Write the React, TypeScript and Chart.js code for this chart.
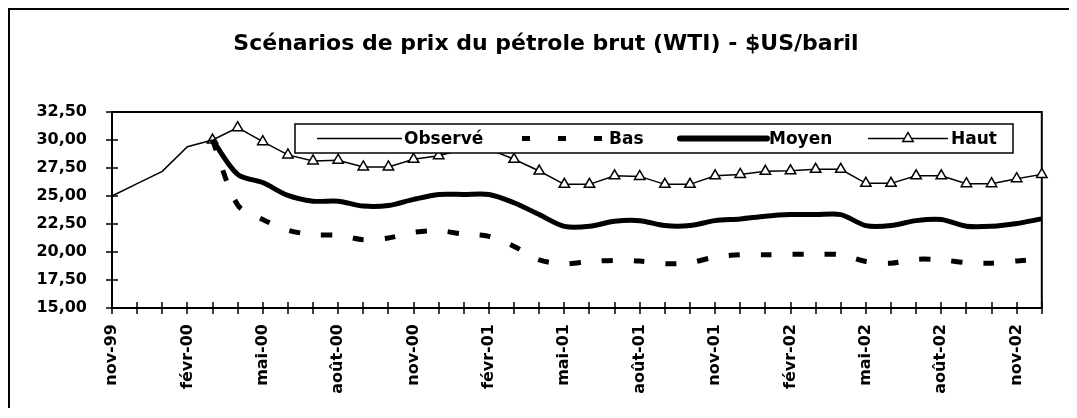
import React, { useEffect, useRef } from "react";
import { Chart, registerables } from "chart.js";

Chart.register(...registerables);

const TITLE = "Scénarios de prix du pétrole brut (WTI) - $US/baril";

const categories = [
  "nov-99", "déc-99", "janv-00", "févr-00", "mars-00", "avr-00", "mai-00", "juin-00", "juil-00", "août-00", "sept-00", "oct-00",
  "nov-00", "déc-00", "janv-01", "févr-01", "mars-01", "avr-01", "mai-01", "juin-01", "juil-01", "août-01", "sept-01", "oct-01",
  "nov-01", "déc-01", "janv-02", "févr-02", "mars-02", "avr-02", "mai-02", "juin-02", "juil-02", "août-02", "sept-02", "oct-02",
  "nov-02", "déc-02",
];

const observe = [25.0, 26.1, 27.2, 29.4, 30.0,
  null, null, null, null, null, null, null, null, null, null, null, null, null, null, null, null,
  null, null, null, null, null, null, null, null, null, null, null, null, null, null, null, null, null];

const bas = [null, null, null, null, 30.0,
  24.2, 22.9, 21.95, 21.55, 21.5, 21.1, 21.25, 21.75, 21.9, 21.6, 21.4,
  20.5, 19.3, 18.95, 19.15, 19.25, 19.2, 18.95, 19.05, 19.55, 19.75,
  19.75, 19.8, 19.8, 19.75, 19.15, 19.0, 19.35, 19.3, 19.05, 19.0, 19.2, 19.35];

const moyen = [null, null, null, null, 30.0,
  26.93, 26.2, 25.05, 24.54, 24.54, 24.1, 24.15, 24.7, 25.14, 25.14, 25.14,
  24.4, 23.34, 22.29, 22.29, 22.74, 22.8, 22.36, 22.36, 22.8, 22.95,
  23.2, 23.34, 23.34, 23.34, 22.36, 22.36, 22.8, 22.9, 22.29, 22.29, 22.54, 22.96];

const haut = [null, null, null, null, 30.0,
  31.1, 29.85, 28.67, 28.13, 28.2, 27.6, 27.6, 28.28, 28.6, 29.2, 29.2,
  28.28, 27.23, 26.04, 26.04, 26.8, 26.75, 26.04, 26.04, 26.8, 26.93,
  27.2, 27.25, 27.38, 27.38, 26.13, 26.13, 26.8, 26.8, 26.1, 26.1, 26.55, 26.93];

const yTicks = { min: 15, max: 32.5, step: 2.5 };

const FONT = "'DejaVu Sans', 'Liberation Sans', sans-serif";

const framePlugin = {
  id: "frame",
  beforeDraw(chart: any) {
    const { ctx, width, height } = chart;
    ctx.save();
    ctx.fillStyle = "#fff";
    ctx.fillRect(0, 0, width, height);
    ctx.strokeStyle = "#000";
    ctx.lineWidth = 2;
    ctx.beginPath();
    ctx.moveTo(1, height);
    ctx.lineTo(1, 1);
    ctx.lineTo(width, 1);
    ctx.stroke();
    ctx.fillStyle = "#000";
    ctx.font = `bold 22px ${FONT}`;
    ctx.textAlign = "center";
    ctx.textBaseline = "middle";
    ctx.fillText(TITLE, 538, 36);
    ctx.restore();
  },
  beforeDatasetsDraw(chart: any) {
    const { ctx, chartArea: ca, scales } = chart;
    ctx.save();
    ctx.strokeStyle = "#000";
    ctx.lineWidth = 2;
    ctx.strokeRect(ca.left, ca.top, ca.right - ca.left, ca.bottom - ca.top);
    ctx.lineWidth = 1.5;
    ctx.beginPath();
    const ys = scales.y;
    ys.ticks.forEach((_t: any, i: number) => {
      const py = Math.round(ys.getPixelForTick(i));
      ctx.moveTo(ca.left - 6, py);
      ctx.lineTo(ca.left + 6, py);
    });
    const xs = scales.x;
    for (let i = 0; i < categories.length; i++) {
      const px = Math.round(xs.getPixelForValue(i));
      ctx.moveTo(px, ca.bottom - 6);
      ctx.lineTo(px, ca.bottom + 6);
    }
    ctx.stroke();
    ctx.restore();
  },
};

const legendPlugin = {
  id: "boxLegend",
  afterDatasetsDraw(chart: any) {
    const { ctx, chartArea: ca } = chart;
    const x0 = ca.left + 183;
    const y0 = ca.top + 12;
    const w = 718;
    const h = 29;
    ctx.save();
    ctx.fillStyle = "#fff";
    ctx.fillRect(x0, y0, w, h);
    ctx.strokeStyle = "#000";
    ctx.lineWidth = 1.5;
    ctx.strokeRect(x0, y0, w, h);
    const cy = y0 + h / 2;
    const items = [
      { s: 22, e: 107, t: 109, lw: 1.5, dash: [] as number[], tri: false },
      { s: 227, e: 312, t: 314, lw: 5, dash: [8, 28], tri: false },
      { s: 385, e: 472, t: 474, lw: 6, dash: [] as number[], tri: false },
      { s: 573, e: 653, t: 656, lw: 1.5, dash: [] as number[], tri: true },
    ];
    chart.data.datasets.forEach((ds: any, i: number) => {
      const it = items[i];
      ctx.save();
      ctx.strokeStyle = "#000";
      ctx.lineWidth = it.lw;
      ctx.lineCap = it.lw > 4 && it.dash.length === 0 ? "round" : "butt";
      ctx.setLineDash(it.dash);
      ctx.beginPath();
      ctx.moveTo(x0 + it.s, cy);
      ctx.lineTo(x0 + it.e, cy);
      ctx.stroke();
      ctx.restore();
      if (it.tri) {
        const cx = x0 + (it.s + it.e) / 2;
        const r = 6;
        ctx.save();
        ctx.beginPath();
        ctx.moveTo(cx, cy - r);
        ctx.lineTo(cx + r * 0.866, cy + r * 0.5);
        ctx.lineTo(cx - r * 0.866, cy + r * 0.5);
        ctx.closePath();
        ctx.fillStyle = "#fff";
        ctx.fill();
        ctx.lineWidth = 1.5;
        ctx.strokeStyle = "#000";
        ctx.stroke();
        ctx.restore();
      }
      ctx.fillStyle = "#000";
      ctx.font = `bold 17px ${FONT}`;
      ctx.textBaseline = "middle";
      ctx.textAlign = "left";
      ctx.fillText(ds.label, x0 + it.t, cy + 1);
    });
    ctx.restore();
  },
};

export default function App() {
  const ref = useRef<HTMLCanvasElement>(null);
  useEffect(() => {
    const canvas = ref.current!;
    const chart = new Chart(canvas, {
      type: "line",
      data: {
        labels: categories,
        datasets: [
          {
            label: "Observé",
            data: observe,
            borderColor: "#000",
            borderWidth: 1.5,
            pointRadius: 0,
            tension: 0,
          },
          {
            label: "Bas",
            data: bas,
            borderColor: "#000",
            borderWidth: 5,
            borderDash: [11, 21],
            pointRadius: 0,
            tension: 0.3,
          },
          {
            label: "Moyen",
            data: moyen,
            borderColor: "#000",
            borderWidth: 5,
            pointRadius: 0,
            tension: 0.3,
          },
          {
            label: "Haut",
            data: haut,
            borderColor: "#000",
            borderWidth: 1.5,
            pointStyle: "triangle",
            pointRadius: 6,
            pointBackgroundColor: "#fff",
            pointBorderColor: "#000",
            pointBorderWidth: 1.5,
            tension: 0,
            clip: false,
          },
        ] as any,
      },
      options: {
        responsive: false,
        animation: false,
        events: [],
        layout: { padding: { left: 0, right: 27, top: 104, bottom: 0 } },
        plugins: {
          legend: { display: false },
          tooltip: { enabled: false },
          title: { display: false },
        },
        scales: {
          x: {
            type: "category",
            offset: false,
            grid: { display: false },
            border: { display: false },
            afterFit: (s: any) => {
              s.height = 100;
            },
            ticks: {
              autoSkip: false,
              minRotation: 90,
              maxRotation: 90,
              padding: 8,
              color: "#000",
              font: { family: FONT, size: 16, weight: "bold" },
              callback: (_v: any, i: number) => (i % 3 === 0 ? categories[i] : ""),
            },
          },
          y: {
            min: yTicks.min,
            max: yTicks.max,
            grid: { display: false },
            border: { display: false },
            afterFit: (s: any) => {
              s.width = 104;
            },
            ticks: {
              stepSize: yTicks.step,
              padding: 17,
              color: "#000",
              font: { family: FONT, size: 16, weight: "bold" },
              callback: (v: any) => Number(v).toFixed(2).replace(".", ","),
            },
          },
        },
      } as any,
      plugins: [framePlugin, legendPlugin],
    });
    return () => chart.destroy();
  }, []);
  return (
    <div style={{ width: 1061, height: 400 }}>
      <canvas ref={ref} width={1061} height={400} style={{ display: "block" }} />
    </div>
  );
}
